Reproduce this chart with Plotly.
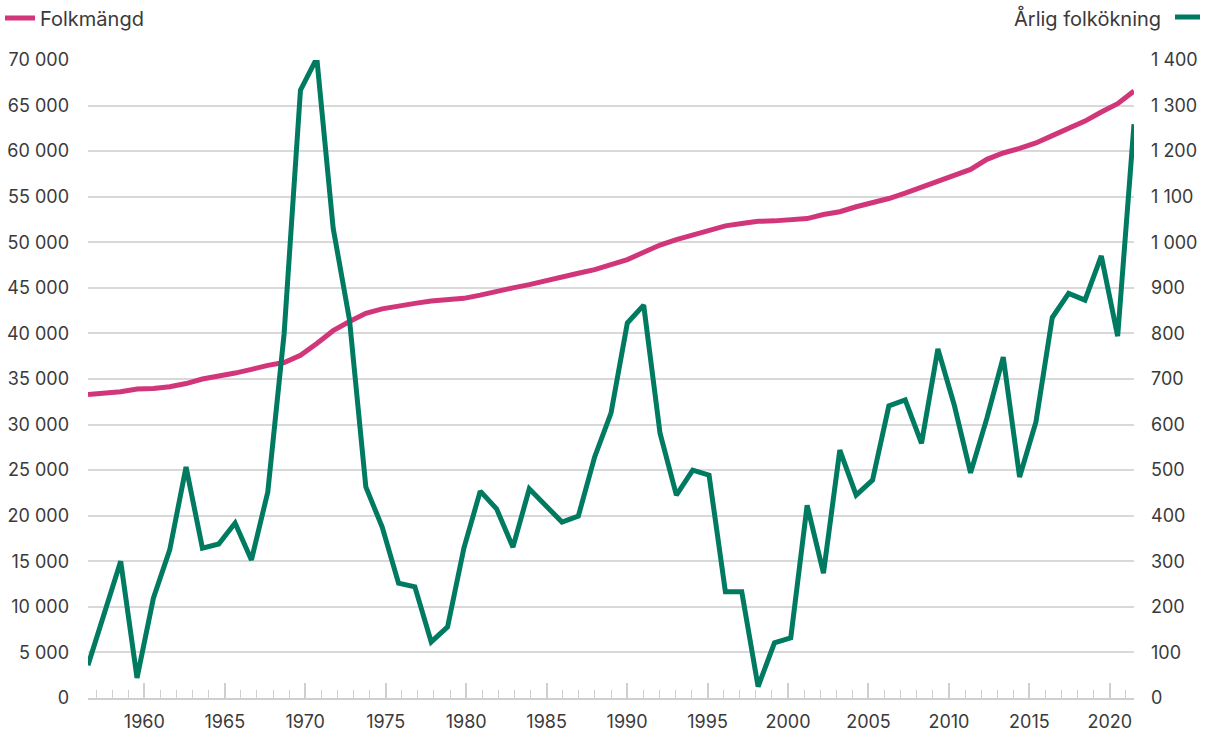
import plotly.graph_objects as go

years = list(range(1957, 2022))

folkmangd = [
    33300, 33400, 33600, 33900, 33950, 34150, 34500, 35000, 35300, 35650,
    36050, 36500, 36800, 37600, 38900, 40300, 41300, 42200, 42700, 43050,
    43300, 43550, 43700, 43850, 44200, 44650, 45000, 45350, 45800, 46200,
    46600, 47000, 47500, 48100, 48900, 49700, 50300, 50800, 51300, 51800,
    52050, 52300, 52350, 52450, 52600, 53050, 53350, 53900, 54350, 54800,
    55400, 56050, 56650, 57400, 58000, 59100, 59800, 60300, 60900, 61700,
    62500, 63300, 64300, 65200, 66600,
]

arlig_folkokning = [
    72, 186, 300, 44, 219, 325, 507, 329, 338, 384,
    303, 452, 800, 1334, 1404, 1031, 830, 463, 375, 252,
    244, 123, 156, 329, 454, 415, 331, 459, 423, 386,
    399, 529, 625, 823, 862, 581, 445, 500, 489, 233,
    233, 25, 121, 132, 423, 274, 544, 445, 478, 641,
    654, 559, 766, 643, 494, 614, 748, 485, 606, 835,
    888, 873, 970, 794, 1259,
]

left_ticks = list(range(0, 70001, 5000))
right_ticks = list(range(0, 1401, 100))
x_major_ticks = list(range(1960, 2021, 5))

PINK = "#d2367a"
GREEN = "#007a60"
TEXT = "#3a3a3a"
GRID = "#d9d9d9"
FONT = "Inter, Lato, sans-serif"

fig = go.Figure()

fig.add_trace(go.Scatter(
    x=years, y=folkmangd, name="Folkmängd", mode="lines",
    line=dict(color=PINK, width=5), xaxis="x2", yaxis="y",
))
fig.add_trace(go.Scatter(
    x=years, y=arlig_folkokning, name="Årlig folkökning", mode="lines",
    line=dict(color=GREEN, width=5), xaxis="x2", yaxis="y2",
    showlegend=False,
))
# empty trace so the visible tick axis is drawn
fig.add_trace(go.Scatter(x=[], y=[], xaxis="x", yaxis="y",
                         showlegend=False, hoverinfo="skip"))

fmt = lambda v: f"{v:,}".replace(",", " ")

fig.update_layout(
    width=1208, height=740,
    margin=dict(l=88, r=74, t=60, b=42, autoexpand=False),
    paper_bgcolor="white", plot_bgcolor="white",
    font=dict(family=FONT, size=18, color=TEXT),
    showlegend=True,
    legend=dict(
        xref="container", yref="container", x=-0.0025, y=1 - 18 / 740,
        xanchor="left", yanchor="middle", orientation="h",
        font=dict(size=20, color=TEXT), bgcolor="rgba(0,0,0,0)",
    ),
    xaxis=dict(
        range=[1956.5, 2021.5], showgrid=False, zeroline=False,
        showline=True, linecolor="#cfcfcf", linewidth=2,
        tickmode="array", tickvals=x_major_ticks,
        ticktext=[str(v) for v in x_major_ticks],
        ticks="inside", ticklen=15, tickwidth=1.5, tickcolor="#cfcfcf",
        minor=dict(tick0=1957, dtick=1, ticks="inside", ticklen=8,
                   tickwidth=1, tickcolor="#cfcfcf", showgrid=False),
        ticklabelstandoff=6, automargin=False,
        tickfont=dict(size=18, color=TEXT),
        fixedrange=True,
    ),
    xaxis2=dict(
        range=[1957, 2021], overlaying="x", anchor="y", side="bottom",
        showgrid=False, zeroline=False, showline=False,
        showticklabels=False, ticks="", automargin=False,
    ),
    yaxis=dict(
        range=[0, 70000], tickmode="array", tickvals=left_ticks,
        ticktext=[fmt(v) for v in left_ticks],
        showgrid=True, gridcolor=GRID, gridwidth=1.5,
        zeroline=False, showline=False, ticks="",
        ticklabelstandoff=18, automargin=False,
        tickfont=dict(size=18, color=TEXT),
    ),
    yaxis2=dict(
        range=[0, 1400], overlaying="y", side="right",
        tickmode="array", tickvals=right_ticks,
        ticktext=[fmt(v) for v in right_ticks],
        showgrid=False, zeroline=False, showline=False, ticks="",
        ticklabelstandoff=16, automargin=False,
        tickfont=dict(size=18, color=TEXT),
    ),
)

# right-hand legend entry (text then line sample)
fig.add_annotation(
    xref="paper", yref="paper",
    x=(1163 - 88) / 1046, y=(698 - 18) / 638,
    xanchor="right", yanchor="middle", showarrow=False,
    text="Årlig folkökning", font=dict(size=20, color=TEXT),
)
fig.add_shape(
    type="line", xref="paper", yref="paper",
    x0=(1175 - 88) / 1046, x1=(1200 - 88) / 1046,
    y0=(698 - 17) / 638, y1=(698 - 17) / 638,
    line=dict(color=GREEN, width=5),
)

fig.write_html(
    "out.html",
    config={"displayModeBar": False},
    post_script="document.body.style.margin='0';document.body.style.padding='0';",
)
